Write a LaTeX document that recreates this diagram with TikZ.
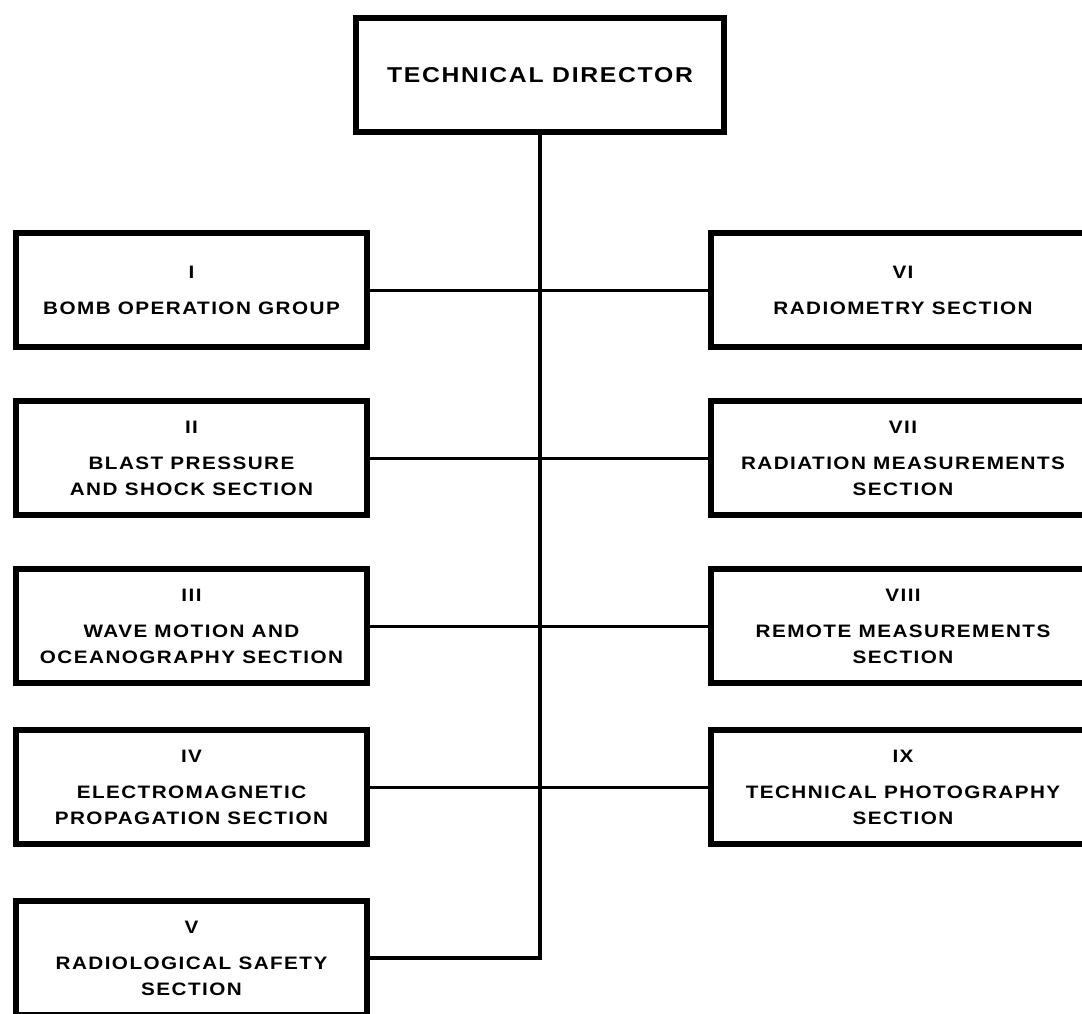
\documentclass[tikz,border=0pt]{standalone}
\usepackage{fontspec}
\setmainfont{Liberation Sans}[LetterSpace=8,FakeStretch=1.15]
\begin{document}
\begin{tikzpicture}[x=1pt,y=-1pt,
  lbox/.style={draw, line width=5.5pt, minimum width=351pt, minimum height=114pt, inner sep=0pt, align=center, font=\fontsize{18}{26}\selectfont\bfseries},
  rbox/.style={lbox, minimum width=384pt},
  tdbox/.style={lbox, minimum width=368pt, font=\fontsize{21.5}{26}\selectfont\bfseries},
  conn/.style={line width=3pt},
  trunk/.style={line width=4pt}]
\useasboundingbox (0,0) rectangle (1082,1014);
\fill[white] (0,0) rectangle (1082,1014);
\clip (0,0) rectangle (1082,1014);
\node[tdbox] (td) at (540,75) {TECHNICAL DIRECTOR};
\node[lbox] (b1) at (191.5,290) {I\\[10pt]BOMB OPERATION GROUP};
\node[lbox] (b2) at (191.5,458) {II\\[10pt]BLAST PRESSURE\\AND SHOCK SECTION};
\node[lbox] (b3) at (191.5,626) {III\\[10pt]WAVE MOTION AND\\OCEANOGRAPHY SECTION};
\node[lbox] (b4) at (191.5,787) {IV\\[10pt]ELECTROMAGNETIC\\PROPAGATION SECTION};
\node[lbox] (b5) at (191.5,958) {V\\[10pt]RADIOLOGICAL SAFETY\\SECTION};
\node[rbox] (b6) at (903,290) {VI\\[10pt]RADIOMETRY SECTION};
\node[rbox] (b7) at (903,458) {VII\\[10pt]RADIATION MEASUREMENTS\\SECTION};
\node[rbox] (b8) at (903,626) {VIII\\[10pt]REMOTE MEASUREMENTS\\SECTION};
\node[rbox] (b9) at (903,787) {IX\\[10pt]TECHNICAL PHOTOGRAPHY\\SECTION};
\draw[trunk] (td.south) |- (b5.east);
\draw[conn] (b1.east) -- (b6.west);
\draw[conn] (b2.east) -- (b7.west);
\draw[conn] (b3.east) -- (b8.west);
\draw[conn] (b4.east) -- (b9.west);
\end{tikzpicture}
\end{document}
